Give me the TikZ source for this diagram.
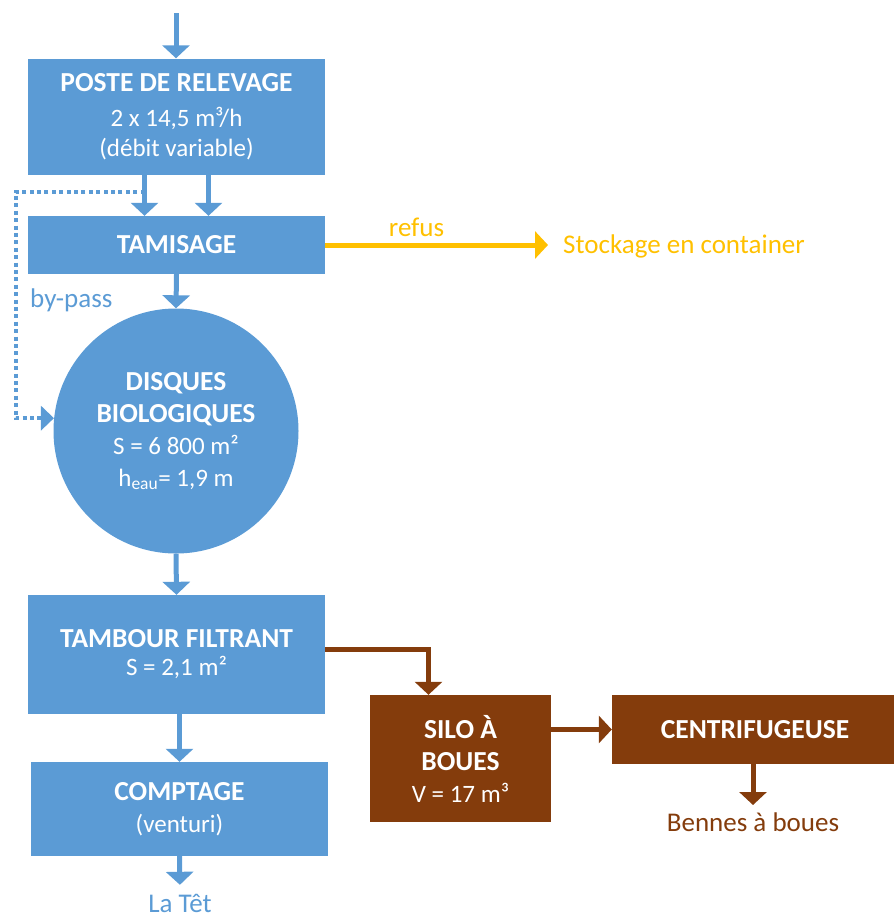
\documentclass[tikz,border=0pt]{standalone}
\usepackage{fontspec}
\setmainfont{Carlito}
\usepackage{tikz}
\usetikzlibrary{positioning, arrows.meta, calc}
\definecolor{waterblue}{HTML}{5B9BD5}
\definecolor{sludgebrown}{HTML}{843C0C}
\definecolor{screenyellow}{HTML}{FFC000}
\newcommand\stagename[1]{{\fontsize{27.5}{32}\selectfont\bfseries #1}}
\tikzset{
  stage/.style={fill=waterblue, text=white, align=center, inner sep=0pt,
                minimum width=297pt, font=\fontsize{25}{32}\selectfont},
  basin/.style={stage, circle, minimum size=245pt},
  sludgestage/.style={stage, fill=sludgebrown},
  tag/.style={font=\fontsize{27}{32}\selectfont, inner sep=2pt},
  ar/.style={-{Triangle[length=13pt, width=27pt]}, line width=5pt, waterblue},
  arbrown/.style={ar, sludgebrown},
  aryellow/.style={ar, screenyellow},
  bypass/.style={-{Triangle[length=13pt, width=24pt]}, waterblue,
                 line width=4pt, dash pattern=on 4pt off 3.4pt},
}

\begin{document}
\begin{tikzpicture}[x=1pt, y=-1pt]
  \useasboundingbox (0,0) rectangle (894,921);

  % water line
  \coordinate (inlet) at (176,13);
  \node[stage, minimum height=116pt] (poste) at (176.5,116.5)
    {\stagename{POSTE DE RELEVAGE}\\[3pt] 2 x 14,5 m³/h\\[-2pt] (débit variable)};
  \node[stage, minimum height=58pt] (tamis) at (176.5,245) {\stagename{TAMISAGE}};
  \node[basin] (disques) at (176,431)
    {\stagename{DISQUES}\\ \stagename{BIOLOGIQUES}\\ S = 6 800 m²\\ h\textsubscript{eau}= 1,9 m};
  \node[stage, minimum height=119pt] (tambour) at (176.5,654.5)
    {\stagename{TAMBOUR FILTRANT}\\[-4pt] S = 2,1 m²};
  \node[stage, minimum height=94pt] (comptage) at (179.5,809)
    {\stagename{COMPTAGE}\\ (venturi)};
  \node[tag, text=waterblue, anchor=base, inner ysep=1pt,
        text height=20pt, text depth=0pt] (tet) at (180,912) {La Têt};

  % sludge line
  \node[sludgestage, minimum width=181pt, minimum height=127pt] (silo) at (460.5,758.5)
    {\stagename{SILO À}\\ \stagename{BOUES}\\ V = 17 m³};
  \node[sludgestage, minimum width=286pt, minimum height=69pt] (centri) at (755,729.5)
    {\stagename{CENTRIFUGEUSE}};
  \node[tag, text=sludgebrown, anchor=north, inner ysep=8pt] (bennes) at (753,805) {Bennes à boues};

  \node[tag, text=screenyellow, anchor=west, inner xsep=15pt] (stock) at (548,246)
    {Stockage en container};

  \draw[ar] (inlet) -- (inlet |- poste.north);
  \draw[ar] ([xshift=-32pt]poste.south) -- ([xshift=-32pt]tamis.north);
  \draw[ar] ([xshift=32pt]poste.south) -- ([xshift=32pt]tamis.north);

  % by-pass round the screen
  \coordinate (split) at ($(poste.south)+(-32,17)$);
  \draw[bypass] (split) -- ++(-129,0) |- (disques.174);
  \node[tag, text=waterblue, anchor=west] (bypasslbl) at (28,300) {by-pass};

  \draw[ar] (tamis.south) -- (disques.north);
  \draw[ar] (disques.south) -- (tambour.north);
  \draw[ar] (tambour.south -| comptage.north) -- (comptage.north);
  \draw[ar, shorten >=6pt] (comptage.south) -- (tet.north);

  \draw[aryellow] (tamis.east) -- (stock.west |- tamis.east)
    node[tag, text=screenyellow, pos=0.41, above=4pt] (refuslbl) {refus};

  \draw[arbrown] ([yshift=5.5pt]tambour.east) -| ([xshift=-32pt]silo.north);
  \draw[arbrown] (silo.east |- centri.west) -- (centri.west);
  \draw[arbrown] (centri.south -| bennes.north) -- (bennes.north);
\end{tikzpicture}
\end{document}
